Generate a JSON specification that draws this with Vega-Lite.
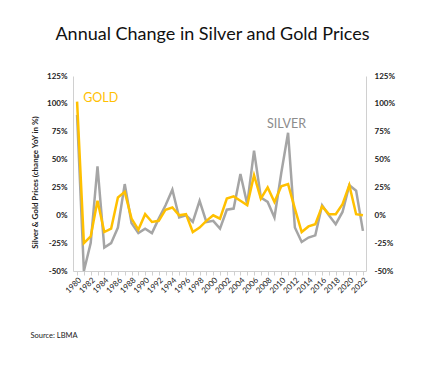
{
  "$schema": "https://vega.github.io/schema/vega-lite/v6.json",
  "width": 293,
  "height": 195,
  "autosize": {"type": "none"},
  "padding": {"left": 73, "top": 76, "right": 56, "bottom": 98},
  "background": "white",
  "config": {
    "font": "Lato",
    "view": {"stroke": null},
    "axis": {"grid": false, "labelFont": "Lato", "titleFont": "Lato"},
    "axisX": {
      "format": "d",
      "labelExpr": "datum.value % 2 == 0 ? datum.label : ''",
      "labelAngle": -45,
      "labelAlign": "right",
      "labelBaseline": "top",
      "labelFontSize": 8,
      "labelColor": "#222222",
      "labelPadding": 1,
      "labelOverlap": false,
      "labelBound": false,
      "labelFlush": false,
      "domainColor": "#D0D0D0",
      "tickColor": "#D0D0D0",
      "tickSize": 4,
      "titleFontSize": 7.5,
      "titleFontWeight": "normal",
      "titleColor": "#222222",
      "titleAnchor": "start",
      "titleAlign": "left",
      "titleBaseline": "middle",
      "titleX": -43,
      "titleY": 64
    }
  },
  "title": {
    "text": "Annual Change in Silver and Gold Prices",
    "fontSize": 18,
    "fontWeight": "normal",
    "font": "Lato",
    "color": "#111111",
    "anchor": "middle",
    "dx": -7,
    "offset": 28
  },
  "datasets": {
    "prices": [
      {"year": 1980, "series": "Gold", "change": 102}, {"year": 1980, "series": "Silver", "change": 90},
      {"year": 1981, "series": "Gold", "change": -25}, {"year": 1981, "series": "Silver", "change": -50},
      {"year": 1982, "series": "Gold", "change": -19}, {"year": 1982, "series": "Silver", "change": -25},
      {"year": 1983, "series": "Gold", "change": 13}, {"year": 1983, "series": "Silver", "change": 44},
      {"year": 1984, "series": "Gold", "change": -15}, {"year": 1984, "series": "Silver", "change": -29},
      {"year": 1985, "series": "Gold", "change": -12}, {"year": 1985, "series": "Silver", "change": -25},
      {"year": 1986, "series": "Gold", "change": 16}, {"year": 1986, "series": "Silver", "change": -11},
      {"year": 1987, "series": "Gold", "change": 21}, {"year": 1987, "series": "Silver", "change": 28},
      {"year": 1988, "series": "Gold", "change": -3}, {"year": 1988, "series": "Silver", "change": -7},
      {"year": 1989, "series": "Gold", "change": -13}, {"year": 1989, "series": "Silver", "change": -16},
      {"year": 1990, "series": "Gold", "change": 1}, {"year": 1990, "series": "Silver", "change": -12},
      {"year": 1991, "series": "Gold", "change": -6}, {"year": 1991, "series": "Silver", "change": -16},
      {"year": 1992, "series": "Gold", "change": -5}, {"year": 1992, "series": "Silver", "change": -3},
      {"year": 1993, "series": "Gold", "change": 5}, {"year": 1993, "series": "Silver", "change": 9},
      {"year": 1994, "series": "Gold", "change": 7}, {"year": 1994, "series": "Silver", "change": 23},
      {"year": 1995, "series": "Gold", "change": 0}, {"year": 1995, "series": "Silver", "change": -2},
      {"year": 1996, "series": "Gold", "change": 1}, {"year": 1996, "series": "Silver", "change": 0},
      {"year": 1997, "series": "Gold", "change": -15}, {"year": 1997, "series": "Silver", "change": -6},
      {"year": 1998, "series": "Gold", "change": -11}, {"year": 1998, "series": "Silver", "change": 13},
      {"year": 1999, "series": "Gold", "change": -5}, {"year": 1999, "series": "Silver", "change": -6},
      {"year": 2000, "series": "Gold", "change": 0}, {"year": 2000, "series": "Silver", "change": -5},
      {"year": 2001, "series": "Gold", "change": -3}, {"year": 2001, "series": "Silver", "change": -12},
      {"year": 2002, "series": "Gold", "change": 15}, {"year": 2002, "series": "Silver", "change": 5},
      {"year": 2003, "series": "Gold", "change": 17}, {"year": 2003, "series": "Silver", "change": 6},
      {"year": 2004, "series": "Gold", "change": 13}, {"year": 2004, "series": "Silver", "change": 37},
      {"year": 2005, "series": "Gold", "change": 9}, {"year": 2005, "series": "Silver", "change": 10},
      {"year": 2006, "series": "Gold", "change": 36}, {"year": 2006, "series": "Silver", "change": 58},
      {"year": 2007, "series": "Gold", "change": 15}, {"year": 2007, "series": "Silver", "change": 16},
      {"year": 2008, "series": "Gold", "change": 25}, {"year": 2008, "series": "Silver", "change": 12},
      {"year": 2009, "series": "Gold", "change": 12}, {"year": 2009, "series": "Silver", "change": -2},
      {"year": 2010, "series": "Gold", "change": 26}, {"year": 2010, "series": "Silver", "change": 38},
      {"year": 2011, "series": "Gold", "change": 28}, {"year": 2011, "series": "Silver", "change": 74},
      {"year": 2012, "series": "Gold", "change": 6}, {"year": 2012, "series": "Silver", "change": -11},
      {"year": 2013, "series": "Gold", "change": -15}, {"year": 2013, "series": "Silver", "change": -24},
      {"year": 2014, "series": "Gold", "change": -10}, {"year": 2014, "series": "Silver", "change": -20},
      {"year": 2015, "series": "Gold", "change": -8}, {"year": 2015, "series": "Silver", "change": -18},
      {"year": 2016, "series": "Gold", "change": 8}, {"year": 2016, "series": "Silver", "change": 9},
      {"year": 2017, "series": "Gold", "change": 1}, {"year": 2017, "series": "Silver", "change": 0},
      {"year": 2018, "series": "Gold", "change": 1}, {"year": 2018, "series": "Silver", "change": -8},
      {"year": 2019, "series": "Gold", "change": 10}, {"year": 2019, "series": "Silver", "change": 3},
      {"year": 2020, "series": "Gold", "change": 27}, {"year": 2020, "series": "Silver", "change": 27},
      {"year": 2021, "series": "Gold", "change": 1}, {"year": 2021, "series": "Silver", "change": 22},
      {"year": 2022, "series": "Gold", "change": 0}, {"year": 2022, "series": "Silver", "change": -14}
    ],
    "labels": [
      {"year": 1980.9, "change": 105, "label": "GOLD", "series": "Gold"},
      {"year": 2007.9, "change": 82, "label": "SILVER", "series": "Silver"}
    ]
  },
  "layer": [
    {
      "data": {"name": "prices"},
      "transform": [{"filter": "datum.series == 'Silver'"}],
      "mark": {"type": "line", "strokeWidth": 2.5, "color": "#A5A5A5"},
      "encoding": {
        "x": {
          "field": "year", "type": "quantitative",
          "scale": {"domain": [1979.4, 2022.45], "nice": false, "zero": false},
          "axis": {
            "values": [1980,1981,1982,1983,1984,1985,1986,1987,1988,1989,1990,1991,1992,1993,1994,1995,1996,1997,1998,1999,2000,2001,2002,2003,2004,2005,2006,2007,2008,2009,2010,2011,2012,2013,2014,2015,2016,2017,2018,2019,2020,2021,2022],
            "title": "Source: LBMA"
          }
        },
        "y": {
          "field": "change", "type": "quantitative",
          "scale": {"domain": [-50, 125], "nice": false},
          "axis": {
            "orient": "right",
            "values": [-50, -25, 0, 25, 50, 75, 100, 125],
            "labelExpr": "datum.value + '%'",
            "labelFontSize": 8,
            "labelFontWeight": "bold",
            "labelColor": "#222222",
            "ticks": false,
            "labelPadding": 8,
            "domainColor": "#D0D0D0",
            "title": null
          }
        }
      }
    },
    {
      "data": {"name": "prices"},
      "transform": [{"filter": "datum.series == 'Gold'"}],
      "mark": {"type": "line", "strokeWidth": 2.5, "color": "#FFC000"},
      "encoding": {
        "x": {
          "field": "year", "type": "quantitative",
          "axis": {
            "values": [1980,1981,1982,1983,1984,1985,1986,1987,1988,1989,1990,1991,1992,1993,1994,1995,1996,1997,1998,1999,2000,2001,2002,2003,2004,2005,2006,2007,2008,2009,2010,2011,2012,2013,2014,2015,2016,2017,2018,2019,2020,2021,2022],
            "title": "Source: LBMA"
          }
        },
        "y": {
          "field": "change", "type": "quantitative",
          "axis": {
            "orient": "left",
            "values": [-50, -25, 0, 25, 50, 75, 100, 125],
            "labelExpr": "datum.value + '%'",
            "labelFontSize": 8,
            "labelFontWeight": "bold",
            "labelColor": "#222222",
            "ticks": false,
            "labelPadding": 6,
            "domainColor": "#D0D0D0",
            "title": "Silver & Gold Prices (change YoY in %)",
            "titleFontSize": 8,
            "titleFontWeight": "bold",
            "titleColor": "#222222",
            "titleX": -38,
            "titleY": 106,
            "titleAlign": "center",
            "titleBaseline": "middle"
          }
        }
      }
    },
    {
      "mark": {"type": "rule", "strokeDash": [2, 2], "color": "#A0A0A0", "strokeWidth": 0.8},
      "encoding": {"y": {"datum": 0, "axis": null}}
    },
    {
      "data": {"name": "labels"},
      "mark": {"type": "text", "align": "left", "baseline": "middle", "fontSize": 12.5, "font": "Lato"},
      "encoding": {
        "x": {
          "field": "year", "type": "quantitative",
          "axis": {
            "values": [1980,1981,1982,1983,1984,1985,1986,1987,1988,1989,1990,1991,1992,1993,1994,1995,1996,1997,1998,1999,2000,2001,2002,2003,2004,2005,2006,2007,2008,2009,2010,2011,2012,2013,2014,2015,2016,2017,2018,2019,2020,2021,2022],
            "title": "Source: LBMA"
          }
        },
        "y": {"field": "change", "type": "quantitative", "axis": null},
        "text": {"field": "label"},
        "color": {
          "field": "series", "type": "nominal",
          "scale": {"domain": ["Gold", "Silver"], "range": ["#FFC000", "#8C8C8C"]},
          "legend": null
        }
      }
    }
  ],
  "resolve": {"axis": {"y": "independent"}}
}
